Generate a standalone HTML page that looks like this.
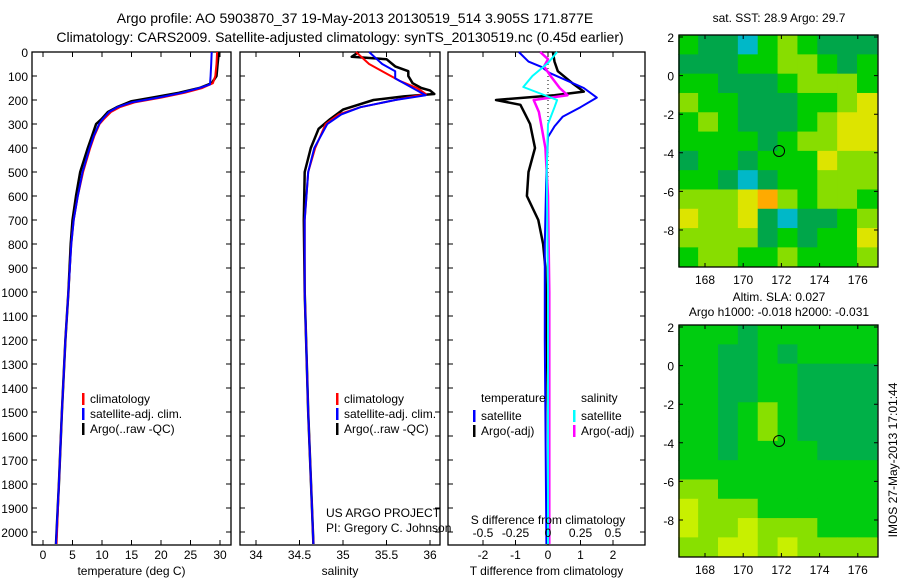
<!DOCTYPE html>
<html><head><meta charset="utf-8"><style>
html,body{margin:0;padding:0;background:#fff;width:900px;height:580px;overflow:hidden;}
svg{display:block;font-family:"Liberation Sans",sans-serif;}
text{fill:#000;}
</style></head><body>
<svg id="s" width="900" height="580" xmlns="http://www.w3.org/2000/svg">
<text x="355" y="23" font-size="14" text-anchor="middle">Argo profile: AO 5903870_37 19-May-2013 20130519_514 3.905S 171.877E</text>
<text x="340" y="42" font-size="14" text-anchor="middle">Climatology: CARS2009. Satellite-adjusted climatology: synTS_20130519.nc (0.45d earlier)</text>
<text x="779" y="22" font-size="12" text-anchor="middle">sat. SST: 28.9 Argo: 29.7</text>
<text x="779" y="301" font-size="12" text-anchor="middle">Altim. SLA: 0.027</text>
<text x="779" y="316" font-size="12" text-anchor="middle">Argo h1000: -0.018 h2000: -0.031</text>
<text transform="translate(897,460) rotate(-90)" font-size="12" text-anchor="middle">IMOS 27-May-2013 17:01:44</text>
</svg>
<script>
// ---- data ----
const depthTicks=[0,100,200,300,400,500,600,700,800,900,1000,1100,1200,1300,1400,1500,1600,1700,1800,1900,2000];
const tempTicks=[0,5,10,15,20,25,30];
const salTicks=[34,34.5,35,35.5,36];
const tdiffTicks=[-2,-1,0,1,2];
const sdiffTicks=[-0.5,-0.25,0,0.25,0.5];
const latTicks=[2,0,-2,-4,-6,-8];
const lonTicks=[168,170,172,174,176];

const tDepthClim=[0,50,100,130,150,170,190,210,230,250,280,300,350,400,500,600,700,800,1000,1200,1500,1800,2050];
const tClim=[29.5,29.4,29.2,28.8,27,24,20,15.5,13,11.5,10.3,9.6,8.7,8.0,6.8,5.9,5.2,4.8,4.3,3.8,3.2,2.7,2.3];
const tDepthSat=[0,50,100,135,150,170,190,210,230,250,280,300,350,400,500,600,700,800,1000,1200,1500,1800,2050];
const tSat=[28.6,28.5,28.4,28.3,26.5,23.5,19.5,15,12.6,11.2,10.1,9.5,8.6,7.9,6.7,5.9,5.2,4.8,4.3,3.8,3.2,2.7,2.2];
const tDepthArgo=[0,50,100,130,150,170,190,205,230,250,280,300,350,400,500,600,700,800,1000,1200,1500,1800,2050];
const tArgo=[29.8,29.6,29.4,28.6,26.5,23,18.5,15,12.5,11,9.9,9.0,8.3,7.6,6.3,5.6,5.0,4.7,4.3,3.8,3.2,2.7,2.2];

const sDepthClim=[0,50,80,120,150,175,200,230,260,300,400,500,700,1000,1500,2050];
const sClim=[35.15,35.3,35.45,35.65,35.85,35.95,35.6,35.2,34.95,34.8,34.68,34.6,34.56,34.56,34.6,34.66];
const sDepthSat=[0,50,80,110,140,180,200,230,260,300,400,500,700,1000,1500,2050];
const sSat=[35.3,35.45,35.6,35.6,35.75,35.95,35.6,35.2,34.98,34.82,34.67,34.6,34.56,34.56,34.6,34.66];
const sDepthArgo=[0,20,30,60,80,100,130,150,160,175,185,200,240,280,320,400,500,700,1000,1500,2050];
const sArgo=[35.18,35.1,35.5,35.6,35.75,35.75,35.8,35.9,36.0,36.05,35.7,35.35,35.0,34.85,34.72,34.63,34.56,34.55,34.56,34.6,34.66];

const dDepthT=[0,40,62,87,120,150,190,230,270,310,354,500,800,1200,2050];
const dTSat=[-0.9,-0.6,-0.2,0.05,0.6,1.1,1.5,1.0,0.45,0.2,0,-0.05,-0.1,-0.1,-0.05];
const dDepthTA=[0,40,80,130,165,180,200,220,260,300,400,500,600,700,800,900,1100,1500,2050];
const dTArgo=[0.15,0.2,0.3,0.75,1.1,0.2,-1.6,-0.85,-0.7,-0.55,-0.4,-0.6,-0.65,-0.3,-0.15,-0.08,-0.05,0,0.03];
const dDepthS=[0,46,100,146,175,200,230,300,500,1000,2050];
const dSSat=[0.07,0,-0.12,-0.19,-0.05,0.07,0.05,0,-0.01,0,0];
const dDepthSA=[0,30,60,100,150,180,200,250,400,600,1000,2050];
const dSArgo=[-0.06,0,-0.03,0.02,0.09,0.15,-0.11,-0.07,-0.02,0,0.01,0.01];

// map grids (rows from lat 2 southward, 1 deg each)
const sstGrid=[
[3,2,2,1,3,4,3,2,2,2],[2,2,2,3,3,4,4,3,2,3],[3,3,2,2,2,3,4,4,4,3],[4,3,3,2,2,2,3,3,4,5],
[3,4,3,2,2,2,3,4,5,5],[3,3,3,3,2,3,4,4,5,5],[2,3,3,2,3,3,3,5,4,4],[3,3,2,1,2,3,3,4,4,4],
[4,4,4,5,6,4,3,4,4,3],[5,4,4,5,2,1,2,2,3,4],[4,4,4,4,2,3,2,3,3,5],[3,4,4,3,3,4,3,3,3,4]];
const slaGrid=[
[3,3,3,2,3,3,3,3,3,3],[3,3,2,2,3,2,3,3,3,3],[3,3,2,2,3,3,2,2,2,2],[3,3,2,2,3,3,2,2,2,2],
[3,3,2,3,4,3,2,2,2,2],[3,3,2,3,4,3,2,2,2,2],[3,3,2,3,3,3,3,2,2,2],[3,3,3,3,3,3,3,3,3,3],
[4,4,3,3,3,3,3,3,3,3],[5,4,4,4,3,3,3,3,3,3],[5,4,4,5,4,4,4,3,3,3],[4,4,5,5,4,5,4,4,4,4]];
const sstColors=['#001f8f','#00b8c8','#00a64a','#00cc00','#88dd00','#dde400','#ffaa00'];
const slaColors=['#0040a0','#00b0a0','#00b048','#00cc10','#88e000','#c8f000'];

// ---- drawing ----
const S=document.getElementById('s');
const NS='http://www.w3.org/2000/svg';
function mk(tag,attrs,parent){const e=document.createElementNS(NS,tag);for(const k in attrs)e.setAttribute(k,attrs[k]);(parent||S).appendChild(e);return e;}
const Y0=52,PPM=0.24;
function yD(d){return Y0+d*PPM;}
const yBot=545;

function panel(name,x0,x1,xf,ticks,labels,fmt,xtitle){
  const g=mk('g',{});
  
  
  const r=mk('rect',{x:x0,y:Y0,width:x1-x0,height:yBot-Y0,fill:'none',stroke:'#000','stroke-width':1.3},g);
  
  
  depthTicks.forEach(d=>{
    const t=mk('path',{d:`M${x0},${yD(d)}h5M${x1},${yD(d)}h-5`,stroke:'#000'},g);
    
    
  });
  ticks.forEach((v,i)=>{
    const x=xf(v);
    const t=mk('path',{d:`M${x},${Y0}v5M${x},${yBot}v-5`,stroke:'#000'},g);
    
    
    const l=mk('text',{x:x,y:559,'font-size':12,'text-anchor':'middle'},g);
    l.textContent=labels?labels[i]:fmt(v);
    
    
  });
  const tt=mk('text',{x:(x0+x1)/2,y:575,'font-size':12,'text-anchor':'middle'},g);
  tt.textContent=xtitle;
  
  
  return g;
}
function line(g,name,xs,ds,xf,color,w){
  const p=mk('polyline',{points:xs.map((v,i)=>xf(v).toFixed(1)+','+yD(ds[i]).toFixed(1)).join(' '),fill:'none',stroke:color,'stroke-width':w,'stroke-linejoin':'round'},g);
  
  
}
function legend(g,x,y,items){
  items.forEach((it,i)=>{
    const b=mk('rect',{x:x,y:y+i*15-10,width:2.5,height:12,fill:it[1]},g);
    
    
    const t=mk('text',{x:x+8,y:y+i*15,'font-size':12},g);
    t.textContent=it[0];
    
    
  });
}

depthTicks.forEach(d=>{
  const t=mk('text',{x:28,y:yD(d)+5,'font-size':12,'text-anchor':'end'});
  t.textContent=d;
  
  
});

const xT=v=>43+v*5.9;
const g1=panel('temperature-panel',32,231,xT,tempTicks,null,v=>v,'temperature (deg C)');
line(g1,'temp-argo-line',tArgo,tDepthArgo,xT,'#000',2.5);
line(g1,'temp-climatology-line',tClim,tDepthClim,xT,'#f00',2);
line(g1,'temp-satellite-line',tSat,tDepthSat,xT,'#00f',2);
legend(g1,82,403,[['climatology','#f00'],['satellite-adj. clim.','#00f'],['Argo(..raw -QC)','#000']]);

const xS=v=>256+(v-34)*87;
const g2=panel('salinity-panel',240,440,xS,salTicks,null,v=>v,'salinity');
line(g2,'sal-argo-line',sArgo,sDepthArgo,xS,'#000',2.5);
line(g2,'sal-climatology-line',sClim,sDepthClim,xS,'#f00',2);
line(g2,'sal-satellite-line',sSat,sDepthSat,xS,'#00f',2);
legend(g2,336,403,[['climatology','#f00'],['satellite-adj. clim.','#00f'],['Argo(..raw -QC)','#000']]);
const c1=mk('text',{x:326,y:517,'font-size':12},g2);c1.textContent='US ARGO PROJECT';


const c2=mk('text',{x:326,y:532,'font-size':12},g2);c2.textContent='PI: Gregory C. Johnson';



const xDT=v=>548+v*32.5;
const xDS=v=>548+v*130;
const g3=panel('difference-panel',448,645,xDT,tdiffTicks,null,v=>v,'T difference from climatology');
const zl=mk('line',{x1:548,y1:Y0,x2:548,y2:yBot,stroke:'#000','stroke-dasharray':'1,3'},g3);


line(g3,'tdiff-argo-line',dTArgo,dDepthTA,xDT,'#000',2.5);
line(g3,'tdiff-satellite-line',dTSat,dDepthT,xDT,'#00f',2);
line(g3,'sdiff-argo-line',dSArgo,dDepthSA,xDS,'#f0f',2.5);
line(g3,'sdiff-satellite-line',dSSat,dDepthS,xDS,'#0ff',2);
sdiffTicks.forEach(v=>{
  const l=mk('text',{x:xDS(v),y:537,'font-size':12,'text-anchor':'middle'},g3);
  l.textContent=v;
  
  
});
const st=mk('text',{x:548,y:524,'font-size':12,'text-anchor':'middle'},g3);st.textContent='S difference from climatology';


const lt1=mk('text',{x:481,y:402,'font-size':12},g3);lt1.textContent='temperature';


const lt2=mk('text',{x:581,y:402,'font-size':12},g3);lt2.textContent='salinity';


legend(g3,473,420,[['satellite','#00f'],['Argo(-adj)','#000']]);
legend(g3,573,420,[['satellite','#0ff'],['Argo(-adj)','#f0f']]);

function map(name,yTop,yBottom,lat2y,latPx,grid,colors,argoMark){
  const g=mk('g',{});
  
  
  const x0=679,x1=878;
  const lonX=l=>705+(l-168)*19.1;
  const latY=l=>lat2y-(l-2)*latPx;
  grid.forEach((row,r)=>row.forEach((v,c)=>{
    const xa=lonX(166.6+c*1.04), xb=lonX(166.6+(c+1)*1.04);
    const ya=latY(2.1-r), yb=latY(1.1-r);
    const cell=mk('rect',{x:xa,y:ya,width:xb-xa+0.5,height:yb-ya+0.5,fill:colors[v]},g);
    
    
  }));
  const m1=mk('rect',{x:x0-1,y:yBottom+1,width:202,height:8,fill:'#fff'},g);
  
  
  const fr=mk('rect',{x:x0,y:yTop,width:x1-x0,height:yBottom-yTop,fill:'none',stroke:'#000','stroke-width':1.3},g);
  
  
  latTicks.forEach(l=>{
    const y=latY(l);
    const t=mk('path',{d:`M${x0},${y}h4M${x1},${y}h-4`,stroke:'#000'},g);
    
    
    const tl=mk('text',{x:x0-5,y:y+5,'font-size':12,'text-anchor':'end'},g);
    tl.textContent=l;
    
    
  });
  lonTicks.forEach(l=>{
    const x=lonX(l);
    const t=mk('path',{d:`M${x},${yTop}v4M${x},${yBottom}v-4`,stroke:'#000'},g);
    
    
    const tl=mk('text',{x:x,y:yBottom+17,'font-size':12,'text-anchor':'middle'},g);
    tl.textContent=l;
    
    
  });
  const ci=mk('circle',{cx:lonX(argoMark[0]),cy:latY(argoMark[1]),r:5.5,fill:'none',stroke:'#000','stroke-width':1},g);
  
  
}
const argoPos=[171.877,-3.905];
map('sst-map',35,267,37,19.3,sstGrid,sstColors,argoPos);
map('sla-map',325,557,327,19.3,slaGrid,slaColors,argoPos);
</script>
</body></html>
